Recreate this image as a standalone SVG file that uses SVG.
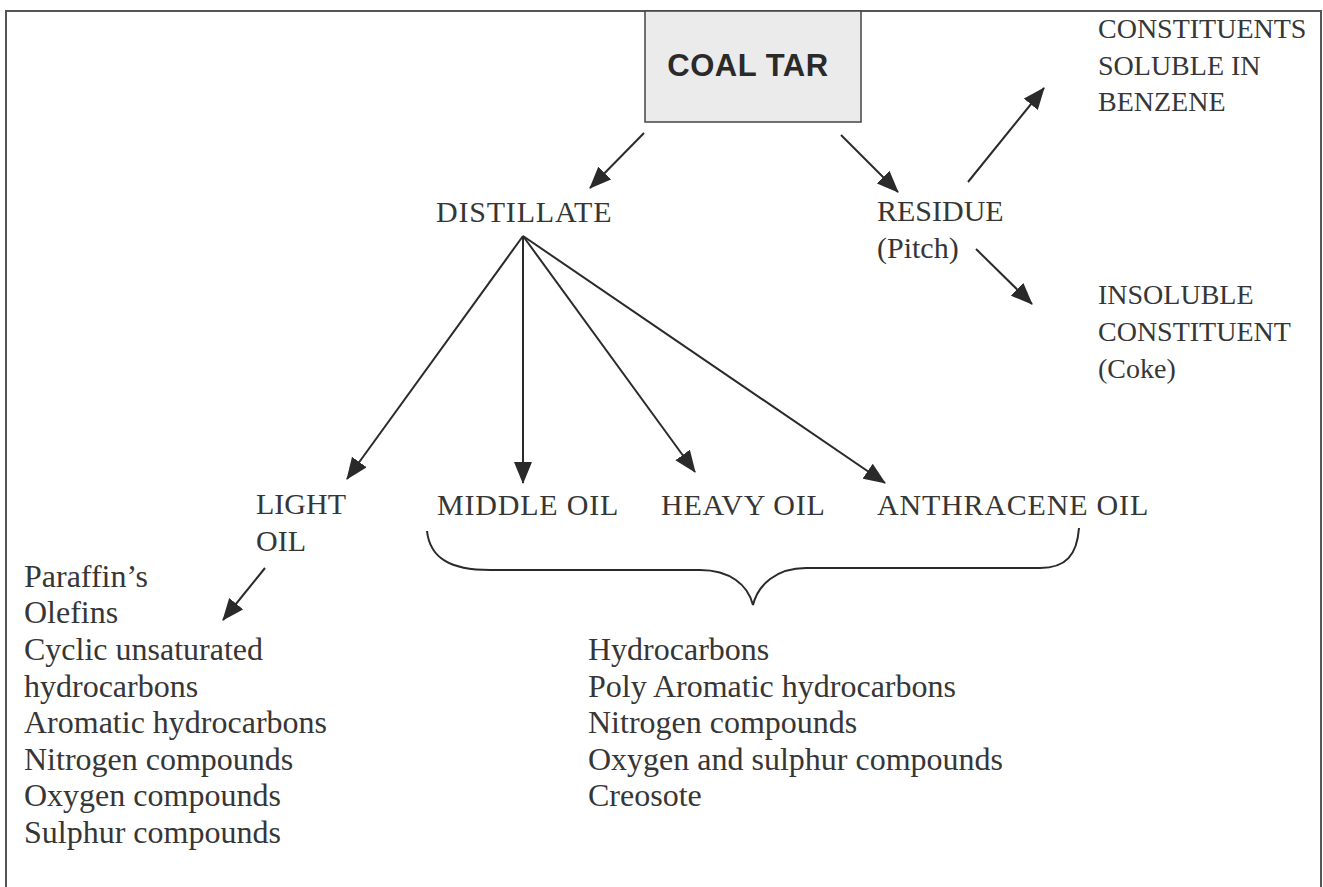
<svg xmlns="http://www.w3.org/2000/svg" width="1323" height="887" viewBox="0 0 1323 887">
<style>
.t{font-family:"Liberation Serif","Times New Roman",serif;font-size:30px;fill:#363636}
.n{letter-spacing:0.8px}
.r{font-size:28px}
.l{font-size:32px}
.b{font-family:"Liberation Sans",Arial,sans-serif;font-weight:bold;font-size:31px;letter-spacing:0.5px;fill:#2a2a2a}
.c{stroke:#2a2a2a;stroke-width:2;fill:none}
</style>
<defs>
<marker id="ah" viewBox="0 0 22 18" refX="21" refY="9" markerWidth="22" markerHeight="18" markerUnits="userSpaceOnUse" orient="auto">
<path d="M0,0 L22,9 L0,18 z" fill="#2a2a2a"/>
</marker>
</defs>
<rect width="1323" height="887" fill="#fff"/>
<path d="M6,887 V11 H1321 V887" fill="none" stroke="#555" stroke-width="2"/>
<g id="coal-tar">
<rect x="645" y="11" width="216" height="111" fill="#ebebeb" stroke="#444" stroke-width="1.5"/>
<text class="b" x="748" y="76" text-anchor="middle">COAL TAR</text>
</g>
<g id="distillate"><text class="t n" x="436" y="222">DISTILLATE</text></g>
<g id="residue"><text class="t" x="877" y="221">RESIDUE</text><text class="t" x="877" y="258">(Pitch)</text></g>
<g id="soluble"><text class="t r" x="1098" y="38">CONSTITUENTS</text><text class="t r" x="1098" y="75">SOLUBLE IN</text><text class="t r" x="1098" y="111">BENZENE</text></g>
<g id="insoluble"><text class="t r" x="1098" y="304">INSOLUBLE</text><text class="t r" x="1098" y="341">CONSTITUENT</text><text class="t r" x="1098" y="378">(Coke)</text></g>
<g id="light-oil"><text class="t" x="256" y="514">LIGHT</text><text class="t" x="256" y="551">OIL</text></g>
<g id="middle-oil"><text class="t n" x="437" y="515">MIDDLE OIL</text></g>
<g id="heavy-oil"><text class="t n" x="661" y="515">HEAVY OIL</text></g>
<g id="anthracene-oil"><text class="t n" x="877" y="515">ANTHRACENE OIL</text></g>
<g id="light-oil-products">
<text class="t l" x="24" y="587">Paraffin’s</text>
<text class="t l" x="24" y="623">Olefins</text>
<text class="t l" x="24" y="660">Cyclic unsaturated</text>
<text class="t l" x="24" y="697">hydrocarbons</text>
<text class="t l" x="24" y="733">Aromatic hydrocarbons</text>
<text class="t l" x="24" y="770">Nitrogen compounds</text>
<text class="t l" x="24" y="806">Oxygen compounds</text>
<text class="t l" x="24" y="843">Sulphur compounds</text>
</g>
<g id="oil-products">
<text class="t l" x="588" y="660">Hydrocarbons</text>
<text class="t l" x="588" y="697">Poly Aromatic hydrocarbons</text>
<text class="t l" x="588" y="733">Nitrogen compounds</text>
<text class="t l" x="588" y="770">Oxygen and sulphur compounds</text>
<text class="t l" x="588" y="806">Creosote</text>
</g>
<g id="connectors">
<line class="c" x1="644" y1="133" x2="590" y2="188" marker-end="url(#ah)"/>
<line class="c" x1="841" y1="135" x2="898" y2="192" marker-end="url(#ah)"/>
<line class="c" x1="968" y1="182" x2="1044" y2="88" marker-end="url(#ah)"/>
<line class="c" x1="976" y1="249" x2="1032" y2="304" marker-end="url(#ah)"/>
<line class="c" x1="523" y1="236" x2="347" y2="479" marker-end="url(#ah)"/>
<line class="c" x1="523" y1="236" x2="523" y2="483" marker-end="url(#ah)"/>
<line class="c" x1="523" y1="236" x2="695" y2="472" marker-end="url(#ah)"/>
<line class="c" x1="523" y1="236" x2="885" y2="483" marker-end="url(#ah)"/>
<line class="c" x1="265" y1="568" x2="223" y2="620" marker-end="url(#ah)"/>
<path class="c" stroke-width="1.6" d="M427,531 C430,558 450,570 490,570 L700,570 C730,570 748,585 753,605 C758,585 776,568 806,568 L1040,568 C1066,568 1077,555 1079,528"/>
</g>
</svg>
